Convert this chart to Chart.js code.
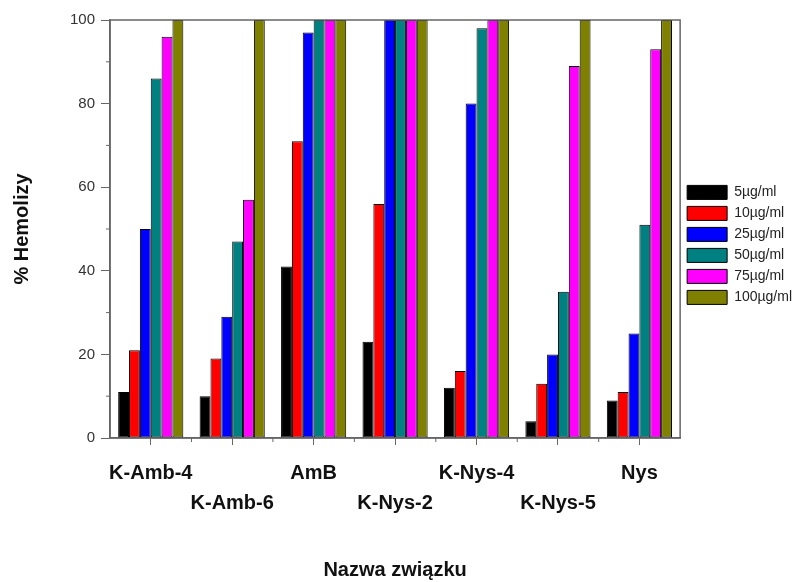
<!DOCTYPE html>
<html>
<head>
<meta charset="utf-8">
<script src="https://cdn.jsdelivr.net/npm/chart.js@4"></script>
<style>
  body { margin: 0; background: #fff; }
  #wrap { width: 798px; height: 582px; }
</style>
</head>
<body>
<div id="wrap"><canvas id="myChart" width="798" height="582"></canvas></div>
<script>
const compounds = ['K-Amb-4', 'K-Amb-6', 'AmB', 'K-Nys-2', 'K-Nys-4', 'K-Nys-5', 'Nys'];
const doses = ['5µg/ml', '10µg/ml', '25µg/ml', '50µg/ml', '75µg/ml', '100µg/ml'];
const colors = ['#000000', '#FF0000', '#0000FF', '#008080', '#FF00FF', '#808000'];

const dose5 = [11, 10, 41, 23, 12, 4, 9];
const dose10 = [21, 19, 71, 56, 16, 13, 11];
const dose25 = [50, 29, 97, 100, 80, 20, 25];
const dose50 = [86, 47, 100, 100, 98, 35, 51];
const dose75 = [96, 57, 100, 100, 100, 89, 93];
const dose100 = [100, 100, 100, 100, 100, 100, 100];
const values = [dose5, dose10, dose25, dose50, dose75, dose100];

// staggered labels: every second one goes on the lower line
const labels = compounds.map((c, i) => i % 2 === 0 ? [c, ''] : ['', c]);

const axisColor = '#666';

// box round the plot plus the short minor ticks
const frame = {
    id: 'frame',
    afterDatasetsDraw(chart) {
        const a = chart.chartArea;
        const c = chart.ctx;
        const xs = chart.scales.x;
        const ys = chart.scales.y;
        c.save();
        c.strokeStyle = axisColor;
        c.lineWidth = 1.5;
        c.strokeRect(a.left, a.top, a.right - a.left, a.bottom - a.top);
        c.lineWidth = 1;
        c.beginPath();
        for (let i = 0; i < compounds.length - 1; i++) {
            const x = (xs.getPixelForValue(i) + xs.getPixelForValue(i + 1)) / 2;
            c.moveTo(x, a.bottom);
            c.lineTo(x, a.bottom + 4);
        }
        for (let v = 10; v < 100; v += 20) {
            const y = ys.getPixelForValue(v);
            c.moveTo(a.left, y);
            c.lineTo(a.left - 4, y);
        }
        c.stroke();
        c.restore();
    }
};

const ctx = document.getElementById('myChart').getContext('2d');
new Chart(ctx, {
    type: 'bar',
    data: {
        labels: labels,
        datasets: doses.map((d, i) => ({
            label: d,
            data: values[i],
            backgroundColor: colors[i],
            borderColor: '#000',
            borderWidth: 1,
            borderSkipped: false,
            categoryPercentage: 0.8,
            barPercentage: 1.0
        }))
    },
    plugins: [frame],
    options: {
        responsive: false,
        animation: false,
        layout: { padding: { top: 20, right: -4, left: 10, bottom: 0 } },
        plugins: {
            legend: {
                position: 'right',
                align: 'start',
                title: {
                    display: true,
                    text: ' ',
                    padding: { top: 144, bottom: 0 },
                    font: { size: 12 }
                },
                labels: {
                    boxWidth: 40,
                    boxHeight: 14,
                    padding: 7,
                    color: '#222',
                    font: { family: 'Arial, "Liberation Sans"', size: 14 }
                }
            },
            tooltip: { enabled: false }
        },
        scales: {
            x: {
                grid: { offset: false, drawOnChartArea: false, tickLength: 7, color: axisColor },
                border: { color: axisColor, width: 1.5 },
                ticks: {
                    color: '#111',
                    maxRotation: 0,
                    autoSkip: false,
                    padding: 13,
                    font: { family: 'Arial, "Liberation Sans"', size: 20, weight: 'bold', lineHeight: 1.5 }
                },
                title: {
                    display: true,
                    text: 'Nazwa związku',
                    color: '#111',
                    padding: { top: 27, bottom: 0 },
                    font: { family: 'Arial, "Liberation Sans"', size: 20, weight: 'bold' }
                }
            },
            y: {
                min: 0,
                max: 100,
                grid: {
                    drawOnChartArea: false,
                    tickLength: 9,
                    color: axisColor,
                    tickColor: c => c.tick && c.tick.value % 20 === 0 ? axisColor : 'rgba(0,0,0,0)'
                },
                border: { color: axisColor, width: 1.5 },
                ticks: {
                    stepSize: 10,
                    color: '#333',
                    padding: 6,
                    font: { family: 'Arial, "Liberation Sans"', size: 15 },
                    callback: v => v % 20 === 0 ? v : ''
                },
                title: {
                    display: true,
                    text: '% Hemolizy',
                    color: '#111',
                    padding: { top: 0, bottom: 30 },
                    font: { family: 'Arial, "Liberation Sans"', size: 20, weight: 'bold' }
                }
            }
        }
    }
});
</script>
</body>
</html>
